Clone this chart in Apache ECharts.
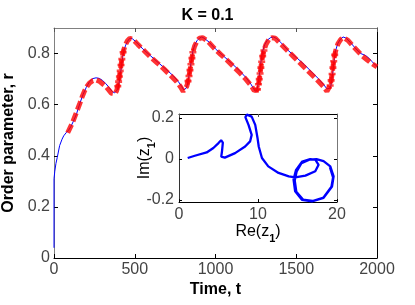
<!DOCTYPE html>
<html><head><meta charset="utf-8">
<script src="https://cdn.jsdelivr.net/npm/echarts@6/dist/echarts.min.js"></script>
<style>html,body{margin:0;padding:0;background:#fff}#c{width:415px;height:305px}</style>
</head><body><div id="c"></div>
<script>
const FONT = 'Liberation Sans, Arial, Helvetica, sans-serif';

const titleText = 'K = 0.1';
const mainXTicks = [0, 500, 1000, 1500, 2000];
const mainYTicks = [0, 0.2, 0.4, 0.6, 0.8];
const insetXTicks = [0, 10, 20];
const insetYTicks = [-0.2, 0, 0.2];

// full model, blue thin line: [t, r]
const blueCurve = [
  [0,0.04],[0,0.31],[5,0.34],[12,0.37],[20,0.393],[35,0.44],[50,0.465],[60,0.478],[75,0.49],[90,0.50],
  [105,0.515],[120,0.535],[140,0.565],[160,0.605],[180,0.64],[200,0.668],[220,0.69],[240,0.702],[260,0.705],
  [280,0.703],[300,0.695],[320,0.683],[340,0.668],[360,0.652],[375,0.646],[385,0.648],[395,0.66],[403,0.685],
  [410,0.715],[418,0.75],[425,0.785],[432,0.808],[442,0.83],[455,0.848],[470,0.86],[485,0.858],[510,0.845],
  [550,0.818],[600,0.79],[650,0.762],[700,0.735],[740,0.712],[770,0.69],[790,0.672],[803,0.658],[812,0.657],
  [820,0.665],[830,0.69],[840,0.73],[850,0.77],[860,0.81],[872,0.835],[885,0.85],[900,0.86],[915,0.865],
  [930,0.86],[960,0.845],[1000,0.818],[1050,0.79],[1100,0.762],[1150,0.732],[1190,0.705],[1220,0.68],
  [1238,0.66],[1248,0.652],[1258,0.66],[1266,0.69],[1274,0.73],[1282,0.77],[1292,0.81],[1305,0.835],
  [1320,0.852],[1340,0.862],[1360,0.865],[1380,0.858],[1410,0.84],[1450,0.812],[1500,0.785],[1550,0.757],
  [1600,0.725],[1640,0.7],[1670,0.678],[1690,0.662],[1702,0.655],[1712,0.665],[1720,0.695],[1728,0.735],
  [1736,0.78],[1745,0.815],[1758,0.84],[1772,0.855],[1790,0.865],[1810,0.86],[1840,0.84],[1870,0.818],
  [1900,0.8],[1930,0.792],[1950,0.782],[1970,0.768],[1990,0.755],[2000,0.75]
];

// reduced model, red markers: [t, r]
const redCurve = [
  [85,0.49],[100,0.51],[115,0.53],[130,0.555],[145,0.58],[160,0.605],[175,0.632],[190,0.655],[205,0.672],
  [220,0.685],[240,0.694],[260,0.697],[280,0.692],[300,0.682],[320,0.672],[340,0.657],[355,0.645],[367,0.638],
  [378,0.643],[388,0.655],[395,0.672],[400,0.69],[405,0.71],[410,0.732],[415,0.755],[420,0.778],[428,0.805],
  [440,0.832],[455,0.85],[470,0.86],[490,0.855],[520,0.835],[560,0.81],[600,0.785],[640,0.763],[680,0.74],
  [720,0.715],[760,0.69],[785,0.668],[800,0.652],[812,0.655],[822,0.672],[830,0.692],[836,0.712],[842,0.735],
  [848,0.758],[854,0.782],[860,0.805],[870,0.828],[885,0.848],[900,0.86],[920,0.862],[950,0.85],[990,0.822],
  [1030,0.798],[1070,0.775],[1110,0.75],[1150,0.725],[1190,0.698],[1220,0.675],[1240,0.655],[1250,0.648],
  [1260,0.66],[1266,0.68],[1271,0.7],[1276,0.722],[1281,0.745],[1286,0.768],[1292,0.79],[1300,0.812],
  [1312,0.835],[1330,0.855],[1350,0.862],[1370,0.86],[1400,0.84],[1440,0.815],[1480,0.79],[1520,0.765],
  [1560,0.74],[1600,0.715],[1640,0.69],[1670,0.67],[1690,0.652],[1700,0.658],[1710,0.675],[1716,0.695],
  [1722,0.72],[1727,0.745],[1732,0.77],[1738,0.795],[1746,0.815],[1758,0.838],[1775,0.855],[1795,0.862],
  [1820,0.852],[1850,0.83],[1880,0.81],[1910,0.79],[1940,0.775],[1970,0.76],[2000,0.748]
];

// inset trajectory: [Re(z1), Im(z1)]
const insetCurve = [
  [1.1,0.005],[2.0,0.016],[3.5,0.032],[4.35,0.054],[5.0,0.078],[5.33,0.092],[5.55,0.08],[5.45,0.04],
  [5.35,0.012],[5.8,0.007],[7.1,0.029],[8.37,0.061],[9.0,0.086],[9.2,0.118],[8.8,0.167],[8.4,0.205],
  [8.6,0.217],[9.2,0.207],[9.65,0.167],[9.95,0.1],[10.1,0.06],[10.5,0.005],[11.3,-0.036],[12.6,-0.068],
  [13.9,-0.085],[14.7,-0.09],[16.0,-0.081],[17.25,-0.06],[17.67,-0.028],[17.25,-0.003],[16.6,0.0],
  [15.6,-0.012],[14.8,-0.055],[14.5,-0.1],[14.7,-0.158],[15.56,-0.199],[16.83,-0.207],[18.3,-0.19],
  [19.37,-0.134],[19.57,-0.085],[19.15,-0.036],[18.3,-0.01],[17.4,0.0],[16.5,-0.003],[15.5,-0.02],
  [14.9,-0.06],[14.65,-0.105],[14.85,-0.16],[15.7,-0.198],[16.9,-0.205],[18.3,-0.188],[19.3,-0.135],
  [19.5,-0.09],[19.1,-0.04]
];

// markers are drawn as separate crosses where the red curve rises steeply
const redRisePoints = redCurve.filter((p, i) => {
  const q = redCurve[i + 1], o = redCurve[i - 1];
  const up = q && (q[1] - p[1]) / (q[0] - p[0]) > 0.0025;
  const upPrev = o && (p[1] - o[1]) / (p[0] - o[0]) > 0.0025;
  return up || upPrev;
});

const PLUS = 'path://M2.5,0H5.5V2.5H8V5.5H5.5V8H2.5V5.5H0V2.5H2.5Z';
const labelStyle = { fontSize: 16, color: '#444', fontFamily: FONT, formatter: v => String(v) };
const subRich = {
  a: { fontSize: 16, color: '#000', fontFamily: FONT, verticalAlign: 'top' },
  s: { fontSize: 11, fontWeight: 'bold', color: '#000', fontFamily: FONT, verticalAlign: 'bottom', padding: [9, 0, 0, 0] }
};

function mirrorAxis(base) {
  return Object.assign({
    type: 'value',
    axisLabel: { show: false },
    splitLine: { show: false },
    axisTick: { inside: true, length: 4 }
  }, base);
}

const chart = echarts.init(document.getElementById('c'), null, { renderer: 'canvas' });
chart.setOption({
  animation: false,
  backgroundColor: '#fff',
  title: {
    text: titleText, left: 'center', top: 3,
    textStyle: { fontSize: 16, fontWeight: 'bold', color: '#000', fontFamily: FONT }
  },
  grid: [
    { left: 54, right: 38, top: 28, bottom: 47, containLabel: false, outerBoundsMode: 'none' },
    { left: 179, top: 114, width: 158, height: 88, containLabel: false, outerBoundsMode: 'none' }
  ],
  xAxis: [
    { type: 'value', gridIndex: 0, position: 'bottom', min: 0, max: 2000, interval: 500,
      axisLine: { show: true, onZero: false, lineStyle: { color: '#000' } },
      axisTick: { inside: true, length: 4, lineStyle: { color: '#000' } },
      axisLabel: Object.assign({ margin: 4, customValues: mainXTicks }, labelStyle),
      splitLine: { show: false },
      name: 'Time, t', nameLocation: 'middle', nameGap: 24, nameMoveOverlap: false,
      nameTextStyle: { fontSize: 16, fontWeight: 'bold', color: '#000', fontFamily: FONT } },
    mirrorAxis({ gridIndex: 0, position: 'top', min: 0, max: 2000, interval: 500,
      axisLine: { show: true, onZero: false, lineStyle: { color: '#808080' } },
      axisTick: { inside: true, length: 4, lineStyle: { color: '#555' } } }),
    { type: 'value', gridIndex: 1, position: 'bottom', min: 0, max: 20, interval: 10,
      axisLine: { show: true, onZero: false, lineStyle: { color: '#000' } },
      axisTick: { inside: true, length: 3, lineStyle: { color: '#000' } },
      axisLabel: Object.assign({ margin: 5, customValues: insetXTicks }, labelStyle),
      splitLine: { show: false },
      name: '{a|Re(z}{s|1}{a|)}', nameLocation: 'middle', nameGap: 22, nameMoveOverlap: false,
      nameTextStyle: { fontSize: 16, color: '#000', fontFamily: FONT, rich: subRich } },
    mirrorAxis({ gridIndex: 1, position: 'top', min: 0, max: 20, interval: 10,
      axisLine: { show: true, onZero: false, lineStyle: { color: '#000' } },
      axisTick: { inside: true, length: 3, lineStyle: { color: '#555' } } })
  ],
  yAxis: [
    { type: 'value', gridIndex: 0, position: 'left', min: 0, max: 0.9,
      axisLine: { show: true, onZero: false, lineStyle: { color: '#808080' } },
      axisTick: { inside: true, length: 4, lineStyle: { color: '#000' }, customValues: mainYTicks },
      axisLabel: Object.assign({ margin: 4, customValues: mainYTicks }, labelStyle),
      splitLine: { show: false },
      name: 'Order parameter, r', nameLocation: 'middle', nameGap: 37, nameRotate: 90, nameMoveOverlap: false,
      nameTextStyle: { fontSize: 16, fontWeight: 'bold', color: '#000', fontFamily: FONT } },
    mirrorAxis({ gridIndex: 0, position: 'right', min: 0, max: 0.9,
      axisLine: { show: true, onZero: false, lineStyle: { color: '#000' } },
      axisTick: { inside: true, length: 4, lineStyle: { color: '#000' }, customValues: mainYTicks } }),
    { type: 'value', gridIndex: 1, position: 'left', min: -0.21, max: 0.22,
      axisLine: { show: true, onZero: false, lineStyle: { color: '#333' } },
      axisTick: { inside: true, length: 3, lineStyle: { color: '#000' }, customValues: insetYTicks },
      axisLabel: Object.assign({ margin: 5, customValues: insetYTicks }, labelStyle),
      splitLine: { show: false },
      name: '{a|Im(z}{s|1}{a|)}', nameLocation: 'middle', nameGap: 22, nameRotate: 90, nameMoveOverlap: false,
      nameTextStyle: { fontSize: 16, color: '#000', fontFamily: FONT, rich: subRich } },
    mirrorAxis({ gridIndex: 1, position: 'right', min: -0.21, max: 0.22,
      axisLine: { show: true, onZero: false, lineStyle: { color: '#777' } },
      axisTick: { inside: true, length: 3, lineStyle: { color: '#000' }, customValues: insetYTicks } })
  ],
  series: [
    { type: 'line', xAxisIndex: 0, yAxisIndex: 0, data: blueCurve, showSymbol: false,
      lineStyle: { width: 1, color: '#0000ff' }, z: 2 },
    { type: 'line', xAxisIndex: 0, yAxisIndex: 0, data: redCurve, showSymbol: false,
      lineStyle: { width: 5, color: 'rgba(255,0,0,0.8)', type: [9, 3.5] }, z: 3 },
    { type: 'scatter', xAxisIndex: 0, yAxisIndex: 0, data: redRisePoints,
      symbol: PLUS, symbolSize: 7, itemStyle: { color: 'rgba(255,0,0,0.9)' }, z: 4 },
    { type: 'line', xAxisIndex: 2, yAxisIndex: 2, data: insetCurve, showSymbol: false,
      lineStyle: { width: 2.3, color: '#0000ff' }, z: 6 }
  ]
});
</script>
</body></html>
